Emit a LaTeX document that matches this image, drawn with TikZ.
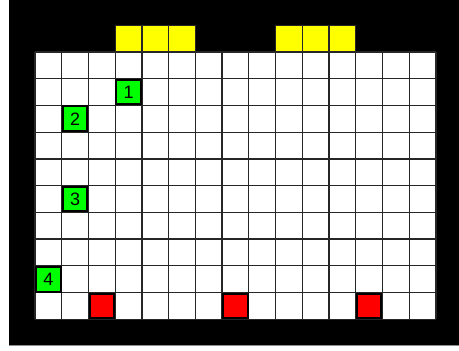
\documentclass[tikz,border=0pt]{standalone}
\usepackage{fontspec}
\setmainfont{Liberation Sans}
\definecolor{cellgreen}{RGB}{0,255,0}
\definecolor{cellred}{RGB}{255,0,0}
\definecolor{cellyellow}{RGB}{255,255,0}
\tikzset{
  gridline/.style={draw=black!85, line width=1.3pt},
  agent/.style={draw=black, line width=2pt, fill=cellgreen, minimum size=24.7pt, inner sep=0pt, font=\fontsize{18}{18}\selectfont},
  target/.style={draw=black, line width=2pt, fill=cellred, minimum size=24.2pt, inner sep=0pt},
  goalcell/.style={draw=black!85, line width=1.3pt, fill=cellyellow, minimum size=26.73pt, inner sep=0pt},
}
\begin{document}
\begin{tikzpicture}
\useasboundingbox (0,0) rectangle (459pt,351pt);
\fill[white] (0,0) rectangle (459pt,351pt);
\fill[black] (9pt,6pt) rectangle (459pt,351pt);
\draw[black!45, line width=0.8pt] (9pt,5.6pt) -- (459pt,5.6pt);
\begin{scope}[shift={(35pt,299pt)}, x=26.73pt, y=-26.73pt]
  \fill[white] (0,0) rectangle (15,10);
  \foreach \i in {0,...,15} \draw[gridline] (\i,0) -- (\i,10);
  \foreach \j in {0,...,10} \draw[gridline] (0,\j) -- (15,\j);
  % yellow cells above grid
  \foreach \i/\n in {3/y1,4/y2,5/y3,9/y4,10/y5,11/y6}
    \node[goalcell] (\n) at (\i+0.5,-0.5) {};
  % green agents
  \node[agent] (g1) at (3.5,1.5) {1};
  \node[agent] (g2) at (1.5,2.5) {2};
  \node[agent] (g3) at (1.5,5.5) {3};
  \node[agent] (g4) at (0.5,8.5) {4};
  % red targets
  \node[target] (r1) at (2.5,9.5) {};
  \node[target] (r2) at (7.5,9.5) {};
  \node[target] (r3) at (12.5,9.5) {};
\end{scope}
\end{tikzpicture}
\end{document}
